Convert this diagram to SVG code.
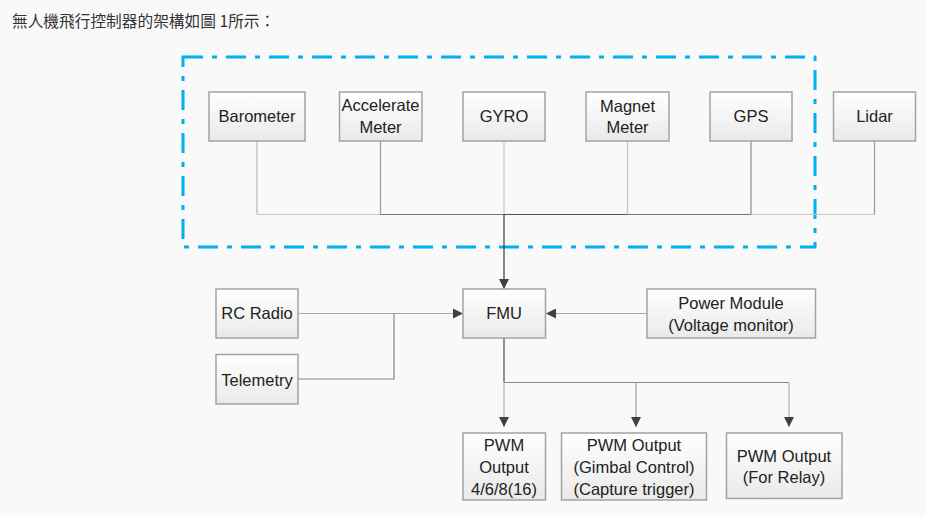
<svg xmlns="http://www.w3.org/2000/svg" width="926" height="516" viewBox="0 0 926 516">
<defs>
<linearGradient id="g" x1="0" y1="0" x2="0" y2="1">
<stop offset="0" stop-color="#ffffff"/>
<stop offset="1" stop-color="#e9e9e9"/>
</linearGradient>
<marker id="ah" viewBox="0 0 10 10" refX="10" refY="5" markerWidth="10" markerHeight="10" markerUnits="userSpaceOnUse" orient="auto">
<path d="M0,0 L10,5 L0,10 Z" fill="#404040"/>
</marker>
<style>
.box{fill:url(#g);stroke:#a3a3a3;stroke-width:1.5}
.t{font-family:"Liberation Sans",Arial,sans-serif;font-size:16.5px;fill:#222;text-anchor:middle}
.c{fill:none;stroke-width:1.2}
</style>
</defs>
<rect x="0" y="0" width="926" height="516" fill="#f9f9f9"/>
<text x="12" y="27" font-family="'Noto Sans CJK TC','Noto Sans CJK SC',sans-serif" font-size="15.7" fill="#333">無人機飛行控制器的架構如圖 1所示：</text>
<rect id="dashbox" x="183" y="57" width="632" height="190" fill="none" stroke="#00b0f0" stroke-width="3" stroke-dasharray="20 9 5 9"/>
<g id="connectors">
<line class="c" x1="257" y1="141" x2="257" y2="214.5" stroke="#b8b8b8"/>
<line class="c" x1="380.5" y1="141" x2="380.5" y2="214.5" stroke="#9a9a9a"/>
<line class="c" x1="504" y1="141" x2="504" y2="214.5" stroke="#c8c8c8"/>
<line class="c" x1="627.5" y1="141" x2="627.5" y2="214.5" stroke="#c8c8c8"/>
<line class="c" x1="751" y1="141" x2="751" y2="214.5" stroke="#8a8a8a"/>
<line class="c" x1="874.5" y1="141" x2="874.5" y2="214.5" stroke="#9a9a9a"/>
<line class="c" x1="257" y1="214.5" x2="380.5" y2="214.5" stroke="#c8c8c8"/>
<line class="c" x1="380.5" y1="214.5" x2="504" y2="214.5" stroke="#7a7a7a"/>
<line class="c" x1="504" y1="214.5" x2="627.5" y2="214.5" stroke="#555"/>
<line class="c" x1="627.5" y1="214.5" x2="751" y2="214.5" stroke="#777"/>
<line class="c" x1="751" y1="214.5" x2="874.5" y2="214.5" stroke="#c8c8c8"/>
<line class="c" x1="504" y1="214.5" x2="504" y2="289" stroke="#3a3a3a" stroke-width="1.6" marker-end="url(#ah)"/>
<line class="c" x1="298" y1="313.5" x2="463" y2="313.5" stroke="#a8a8a8" marker-end="url(#ah)"/>
<polyline class="c" points="298,379 394,379 394,313.5" stroke="#888"/>
<line class="c" x1="647" y1="313.5" x2="546" y2="313.5" stroke="#a8a8a8" marker-end="url(#ah)"/>
<line class="c" x1="504" y1="338" x2="504" y2="382.5" stroke="#4a4a4a" stroke-width="1.5"/>
<line class="c" x1="504" y1="382.5" x2="789" y2="382.5" stroke="#8a8a8a"/>
<line class="c" x1="504" y1="382.5" x2="504" y2="427" stroke="#b0b0b0" marker-end="url(#ah)"/>
<line class="c" x1="636" y1="382.5" x2="636" y2="427" stroke="#9a9a9a" marker-end="url(#ah)"/>
<line class="c" x1="789" y1="382.5" x2="789" y2="427" stroke="#b0b0b0" marker-end="url(#ah)"/>
</g>
<g id="barometer"><rect class="box" x="209" y="92" width="96" height="49"/><text class="t" x="257" y="122">Barometer</text></g>
<g id="accel"><rect class="box" x="339.5" y="92" width="82.5" height="49"/><text class="t" x="380.5" y="111">Accelerate</text><text class="t" x="380.5" y="133">Meter</text></g>
<g id="gyro"><rect class="box" x="463" y="92" width="82" height="49"/><text class="t" x="504" y="122">GYRO</text></g>
<g id="magnet"><rect class="box" x="586" y="92" width="83" height="49"/><text class="t" x="627.5" y="112">Magnet</text><text class="t" x="627.5" y="133">Meter</text></g>
<g id="gps"><rect class="box" x="710" y="92" width="82" height="49"/><text class="t" x="751" y="122">GPS</text></g>
<g id="lidar"><rect class="box" x="833.5" y="92" width="82" height="49"/><text class="t" x="874.5" y="122">Lidar</text></g>
<g id="rcradio"><rect class="box" x="216" y="289" width="82" height="49"/><text class="t" x="257" y="319">RC Radio</text></g>
<g id="telemetry"><rect class="box" x="216" y="354.5" width="82" height="49.5"/><text class="t" x="257" y="385.5">Telemetry</text></g>
<g id="fmu"><rect class="box" x="463" y="289" width="82.5" height="49"/><text class="t" x="504" y="319">FMU</text></g>
<g id="power"><rect class="box" x="647" y="289" width="168.5" height="49"/><text class="t" x="731" y="308.5">Power Module</text><text class="t" x="731" y="330.5">(Voltage monitor)</text></g>
<g id="pwm1"><rect class="box" x="463" y="433" width="82.5" height="67"/><text class="t" x="504" y="451">PWM</text><text class="t" x="504" y="472.5">Output</text><text class="t" x="504" y="495">4/6/8(16)</text></g>
<g id="pwm2"><rect class="box" x="561.5" y="433" width="145" height="67"/><text class="t" x="634" y="451">PWM Output</text><text class="t" x="634" y="472.5">(Gimbal Control)</text><text class="t" x="634" y="495">(Capture trigger)</text></g>
<g id="pwm3"><rect class="box" x="726.5" y="433" width="115.5" height="65.5"/><text class="t" x="784" y="461.5">PWM Output</text><text class="t" x="784" y="483">(For Relay)</text></g>
</svg>
